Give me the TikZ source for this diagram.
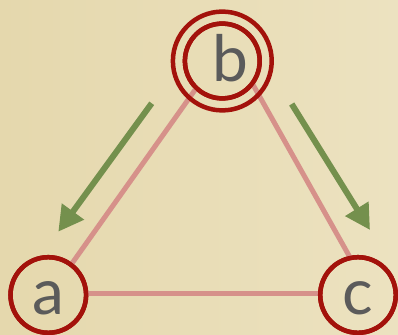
\documentclass[tikz,border=0pt]{standalone}
\usepackage{fontspec}
\setmainfont{Lato}
\usetikzlibrary{arrows.meta}
\definecolor{paperL}{HTML}{E5D8AD}
\definecolor{paperR}{HTML}{ECE2C0}
\definecolor{ringred}{HTML}{A3120B}
\definecolor{edgepink}{HTML}{D6918A}
\definecolor{arrowgreen}{HTML}{74904D}
\definecolor{txtgray}{HTML}{5B5B5B}
\begin{document}
\begin{tikzpicture}[x=1pt,y=-1pt,
  ring/.style={circle,draw=ringred,line width=4.5pt,inner sep=0pt,minimum size=75.6pt},
  lbl/.style={font=\fontsize{64}{64}\selectfont,text=txtgray,anchor=base,inner sep=0pt},
  tri/.style={draw=edgepink,line width=5pt},
  garrow/.style={draw=arrowgreen,line width=6pt,-{Triangle[length=25pt,width=26pt]}}]
\useasboundingbox (0,0) rectangle (398,334);
\clip (0,0) rectangle (398,334);
\shade[left color=paperL,right color=paperR] (0,0) rectangle (398,334);
% triangle vertices
\coordinate (ta) at (51,293);
\coordinate (tb) at (229,42);
\coordinate (tc) at (370,293);
% rings
\node[ring,minimum size=74.8pt] (b) at (222.3,61) {};
\node[ring] (a) at (48.3,295) {};
\node[ring] (c) at (358,295) {};
% triangle edges, clipped at the rings
\begin{scope}[even odd rule]
  \clip (0,0) rectangle (398,334)
    (b.center) circle (39.6pt)
    (a.center) circle (40pt)
    (c.center) circle (40pt);
  \draw[tri] (ta) -- (tb);
  \draw[tri] (tb) -- (tc);
  \draw[tri] (ta) -- (tc);
\end{scope}
% redraw rings on top
\draw[ringred,line width=4.5pt] (b.center) circle (37.4pt);
\draw[ringred,line width=4.5pt] (b.center) circle (49.4pt);
\draw[ringred,line width=4.5pt] (a.center) circle (37.8pt);
\draw[ringred,line width=4.5pt] (c.center) circle (37.8pt);
% labels
\node[lbl] (lb) at (230,82) {b};
\node[lbl] (la) at (48.3,314) {a};
\node[lbl] (lc) at (358,314) {c};
% green arrows
\coordinate (g1s) at (151.7,103.3);
\coordinate (g1e) at (58.3,231.7);
\coordinate (g2s) at (291.7,104);
\coordinate (g2e) at (370,230);
\draw[garrow] (g1s) -- (g1e);
\draw[garrow] (g2s) -- (g2e);
\end{tikzpicture}
\end{document}
